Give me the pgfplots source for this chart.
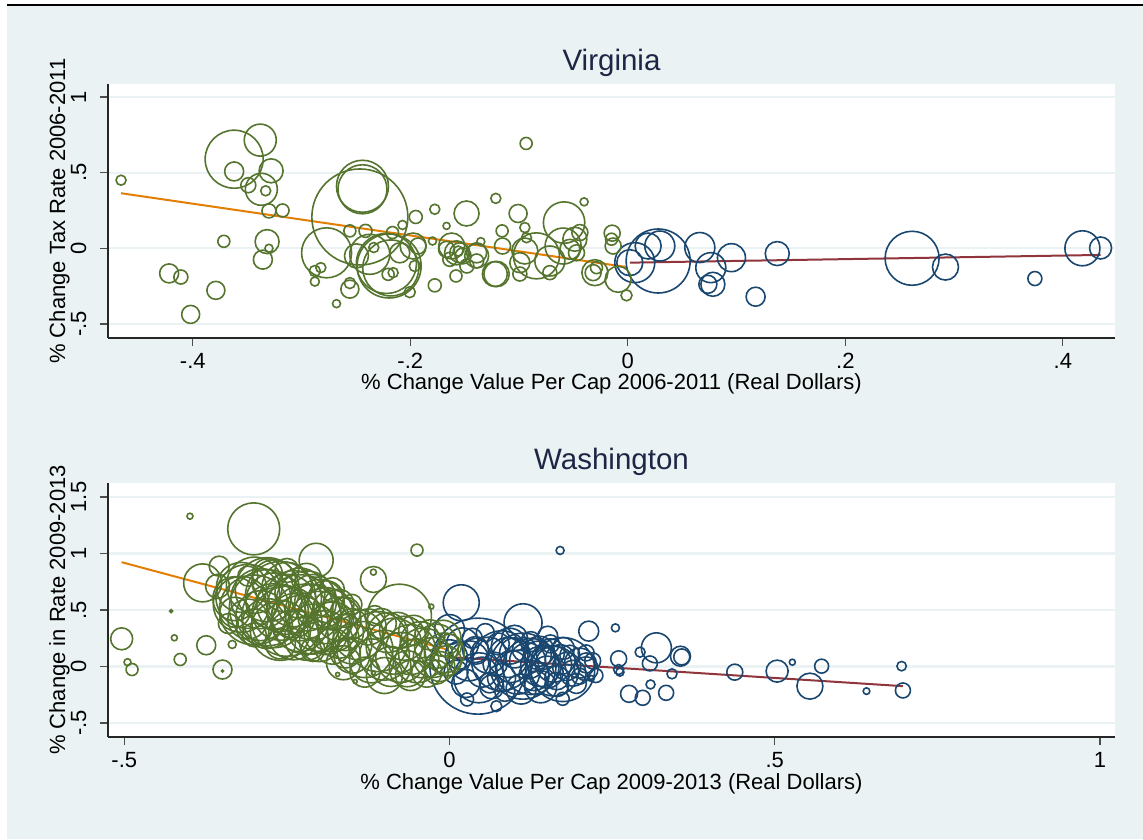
\documentclass[border=0pt]{standalone}
\usepackage{pgfplots}
\pgfplotsset{compat=1.18}
\usepackage{pgfplotstable}
\usepackage{fontspec}
\setmainfont{Liberation Sans}
\definecolor{bgc}{RGB}{234,242,243}
\definecolor{vgreen}{RGB}{85,117,47}
\definecolor{vnavy}{RGB}{26,71,111}
\definecolor{vorange}{RGB}{227,126,0}
\definecolor{vmaroon}{RGB}{144,53,59}
\definecolor{titlec}{RGB}{30,38,70}

\pgfplotstableread{
x y r
-0.466 0.45 5
-0.362 0.589 29
-0.338 0.715 16
-0.362 0.508 9.5
-0.328 0.512 12
-0.349 0.417 7.5
-0.337 0.39 16
-0.333 0.38 5
-0.330 0.247 7
-0.3175 0.25 6.5
-0.3715 0.046 6
-0.3317 0.044 12
-0.330 0.0 4
-0.3356 -0.075 9.5
-0.4218 -0.166 9.5
-0.411 -0.19 7
-0.3788 -0.278 9
-0.402 -0.437 9
-0.2464 0.207 48
-0.244 0.39 24.5
-0.244 0.41 26
-0.277 -0.03 25
-0.2195 -0.117 32
-0.222 -0.10 30
-0.218 -0.13 28
-0.2373 -0.04 20
-0.2495 -0.05 12
-0.2556 0.115 6
-0.2412 0.115 6.5
-0.2164 0.104 6
-0.2072 0.154 4.5
-0.195 0.207 6.5
-0.1775 0.258 5
-0.1483 0.23 12.5
-0.1214 0.33 5
-0.2878 -0.15 5.5
-0.2823 -0.128 5
-0.2878 -0.22 4.5
-0.2556 -0.27 9
-0.2556 -0.23 5.5
-0.2679 -0.366 4
-0.2204 -0.172 6
-0.2158 -0.161 5
-0.2005 -0.29 5.5
-0.1959 -0.117 5.5
-0.1974 0.015 13
-0.193 0.015 8
-0.2097 -0.03 10
-0.2336 0.005 5
-0.1796 0.048 4
-0.1775 -0.245 6.5
-0.1667 0.148 3.5
-0.162 0.015 13
-0.1575 -0.03 12
-0.1667 -0.007 8
-0.156 -0.018 5
-0.1515 -0.05 8
-0.1637 -0.073 7
-0.148 -0.117 7
-0.158 -0.183 6
-0.139 -0.05 12
-0.1223 -0.17 12.5
-0.139 -0.084 7
-0.0935 0.693 6
-0.1009 0.23 9
-0.0947 0.137 5
-0.1156 0.115 6
-0.0586 0.17 20.7
-0.0402 0.307 4
-0.0144 0.1 8
-0.1152 0.015 8
-0.1352 0.044 4
-0.0932 0.07 5
-0.084 -0.05 23
-0.1207 -0.17 12.7
-0.0993 -0.095 10
-0.0993 -0.17 7
-0.0717 -0.084 15
-0.0595 0.015 18
-0.0487 0.06 12
-0.0441 0.104 8
-0.0717 -0.161 7
-0.0533 -0.007 10
-0.0472 -0.03 8
-0.0303 -0.161 13
-0.0319 -0.161 8
-0.0288 -0.128 6
-0.0135 0.015 8
-0.015 0.06 6
-0.0089 -0.205 13
-0.0012 -0.311 5.5
-0.1545 -0.03 10
-0.139 -0.03 10
-0.0947 -0.018 13
}\vagreen

\pgfplotstableread{
x y r
0.0279 -0.084 32
0.0064 -0.095 20
0.0018 -0.095 13
0.0187 0.015 13
0.0294 0.015 15
0.0662 0.005 15
0.0763 -0.128 15
0.0953 -0.062 14
0.0782 -0.238 12
0.0736 -0.238 9
0.1374 -0.035 12
0.1175 -0.32 9.5
0.2614 -0.066 27
0.2921 -0.124 13
0.3743 -0.2 7
0.418 0.0 17.5
0.4347 0.002 11
}\vablue

\pgfplotstableread{
x y r
-0.399 1.33 3
-0.301 1.218 26
-0.205 0.94 17
-0.050 1.03 6
-0.504 0.245 11
-0.495 0.038 3.5
-0.488 -0.027 6
-0.428 0.49 1.5
-0.423 0.254 3
-0.414 0.062 6
-0.374 0.188 9.5
-0.349 -0.027 9.5
-0.349 -0.04 1
-0.334 0.195 4
-0.3795 0.74 19
-0.354 0.888 10
-0.3565 0.71 12
-0.117 0.77 13
-0.117 0.835 3
-0.172 -0.07 2
-0.145 -0.133 2
-0.117 -0.056 2
-0.163 0.033 17
-0.077 0.445 32
-0.028 0.53 2.5
-0.33 0.60 22
-0.33 0.48 15
-0.32 0.70 25
-0.32 0.55 28
-0.31 0.62 32
-0.31 0.42 20
-0.30 0.50 35
-0.30 0.72 28
-0.30 0.35 18
-0.29 0.60 30
-0.29 0.45 25
-0.28 0.68 32
-0.28 0.52 38
-0.28 0.38 25
-0.27 0.58 28
-0.27 0.45 32
-0.27 0.75 22
-0.26 0.62 35
-0.26 0.48 28
-0.26 0.32 30
-0.25 0.55 30
-0.25 0.70 25
-0.25 0.40 35
-0.24 0.60 28
-0.24 0.45 22
-0.24 0.28 25
-0.23 0.52 33
-0.23 0.65 25
-0.23 0.38 28
-0.22 0.58 30
-0.22 0.42 35
-0.22 0.25 22
-0.21 0.48 28
-0.21 0.62 22
-0.21 0.33 25
-0.20 0.55 25
-0.20 0.40 30
-0.20 0.22 20
-0.19 0.45 28
-0.19 0.60 18
-0.19 0.30 22
-0.18 0.50 20
-0.18 0.35 25
-0.18 0.18 18
-0.17 0.42 22
-0.17 0.25 20
-0.17 0.55 15
-0.16 0.30 18
-0.16 0.48 15
-0.16 0.12 15
-0.15 0.38 15
-0.15 0.20 20
-0.34 0.38 10
-0.30 0.28 12
-0.28 0.82 15
-0.25 0.85 12
-0.22 0.78 15
-0.18 0.68 12
-0.15 0.55 10
-0.26 0.20 15
-0.21 0.15 12
-0.31 0.80 10
-0.14 0.28 25
-0.13 0.15 28
-0.125 0.35 18
-0.12 0.05 22
-0.11 0.22 30
-0.105 0.38 15
-0.10 0.10 25
-0.095 0.30 20
-0.09 0.0 20
-0.085 0.18 28
-0.08 0.32 18
-0.075 0.08 25
-0.07 0.25 22
-0.065 -0.02 18
-0.06 0.15 25
-0.055 0.32 15
-0.05 0.05 22
-0.045 0.22 20
-0.04 0.12 25
-0.035 -0.05 15
-0.03 0.28 15
-0.025 0.08 20
-0.02 0.18 22
-0.015 0.0 15
-0.01 0.25 18
-0.008 0.12 20
-0.005 0.05 15
0.0 0.18 12
-0.13 -0.05 15
-0.10 -0.08 18
-0.06 -0.08 15
-0.02 -0.05 12
-0.15 0.10 18
-0.115 0.45 10
}\wagreen

\pgfplotstableread{
x y r
0.170 1.027 4
0.018 0.564 18
0.113 0.387 19
0.214 0.313 10
0.255 0.342 4
0.318 0.165 15
0.355 0.091 10
0.357 0.085 8
0.293 0.127 5
0.260 0.068 8
0.260 -0.027 5
0.262 -0.05 4
0.308 0.027 7.5
0.342 -0.065 5
0.276 -0.242 8.5
0.297 -0.277 7.5
0.309 -0.159 4.5
0.333 -0.233 7.5
0.4385 -0.05 8
0.5036 -0.041 11
0.527 0.038 3
0.572 0.003 7
0.554 -0.174 13
0.641 -0.218 3.3
0.695 0.003 4.7
0.697 -0.212 7.5
0.0436 0.003 48
0.113 0.003 33
0.174 -0.027 32
0.0 0.077 18
0.092 0.18 18
0.138 0.135 15
0.0405 0.135 13
0.0 0.327 15
0.151 0.268 10
0.0615 -0.145 10
0.133 -0.145 12
0.2 -0.086 8
0.2103 0.032 10
0.2179 -0.106 3
0.027 -0.292 6.5
0.072 -0.351 5.5
0.174 -0.286 6.5
0.015 0.10 14
0.03 0.05 20
0.04 0.15 13
0.05 -0.05 15
0.06 0.10 18
0.07 0.02 12
0.08 -0.10 14
0.09 0.08 20
0.095 0.0 16
0.10 0.12 15
0.105 -0.05 22
0.115 0.15 12
0.12 0.05 18
0.13 -0.08 15
0.135 0.10 14
0.14 0.0 20
0.145 0.08 12
0.15 -0.05 16
0.155 0.12 14
0.16 0.02 18
0.165 -0.10 12
0.17 0.06 15
0.18 0.0 14
0.185 0.10 10
0.19 -0.06 13
0.20 0.03 15
0.21 -0.02 12
0.22 0.05 8
0.225 -0.08 7
0.01 -0.05 12
0.02 0.20 16
0.025 -0.15 14
0.035 0.25 10
0.055 0.30 9
0.065 -0.18 12
0.075 0.20 11
0.085 -0.22 10
0.10 0.25 13
0.11 -0.20 15
0.125 0.22 10
0.14 -0.18 16
0.155 0.20 9
0.165 -0.16 12
0.175 0.16 11
0.195 -0.15 10
0.21 0.12 8
0.045 -0.10 25
0.125 0.0 28
0.08 0.05 30
0.16 -0.04 25
}\wablue

\pgfplotsset{
  stata/.style={
    scale only axis, width=1007pt, height=254pt,
    axis x line=bottom, axis y line=left,
    axis line style={-, draw=black!85, line width=1.3pt},
    every outer x axis line/.append style={-},
    every outer y axis line/.append style={-},
    tick style={draw=black!70, line width=1.3pt},
    major tick length=8pt, tick align=outside,
    axis background/.style={fill=white},
    ymajorgrids, xmajorgrids=false,
    grid style={draw=bgc, line width=2.2pt},
    /pgf/number format/assume math mode=true,
    tick label style={font=\fontsize{22}{24}\selectfont, text=black},
    xticklabel style={anchor=base, yshift=-22pt},
    yticklabel style={xshift=-14pt, rotate=90, anchor=base},
    title style={at={(axis description cs:0.5,1)}, anchor=base, yshift=7pt,
      font=\fontsize{29.5}{34}\selectfont, text=titlec},
    xlabel style={at={(axis description cs:0.5,0)}, anchor=base, yshift=-52pt,
      font=\fontsize{22}{25}\selectfont, text=black},
    ylabel style={at={(axis description cs:-0.0427,0.5)}, anchor=base,
      font=\fontsize{22}{25}\selectfont, text=black},
  },
  bubble/.style={scatter, only marks, mark=o, line width=1.6pt, point meta=y,
    scatter/use mapped color={draw=#1},
    visualization depends on={\thisrow{r} \as \rr},
    scatter/@pre marker code/.append style={/tikz/mark size=\rr}},
}

\begin{document}
\begin{tikzpicture}[x=1pt,y=1pt]
\path[use as bounding box] (0,0) rectangle (1143,839);
\fill[white] (0,0) rectangle (1143,839);
\fill[bgc] (7,0) rectangle (1143,833);
\draw[black, line width=2pt] (7,834) -- (1143,834);

\begin{axis}[stata, at={(108pt,501pt)}, anchor=south west,
  xmin=-0.478, xmax=0.448, ymin=-0.593, ymax=1.086,
  xtick={-0.4,-0.2,0,0.2,0.4}, xticklabels={-.4,-.2,0,.2,.4},
  ytick={-0.5,0,0.5,1}, yticklabels={-.5,0,.5,1},
  title={Virginia},
  xlabel={\% Change Value Per Cap 2006-2011 (Real Dollars)},
  ylabel={\% Change Tax Rate 2006-2011}]
\addplot[bubble=vnavy] table[x=x,y=y] {\vablue};
\addplot[bubble=vgreen] table[x=x,y=y] {\vagreen};
\addplot[vorange, line width=2pt] coordinates {(-0.466,0.364) (-0.001,-0.124)};
\addplot[vmaroon, line width=2pt] coordinates {(0.0018,-0.095) (0.4347,-0.044)};
\end{axis}

\begin{axis}[stata, at={(108pt,102pt)}, anchor=south west,
  xmin=-0.525, xmax=1.023, ymin=-0.624, ymax=1.624,
  xtick={-0.5,0,0.5,1}, xticklabels={-.5,0,.5,1},
  ytick={-0.5,0,0.5,1,1.5}, yticklabels={-.5,0,.5,1,1.5},
  title={Washington},
  xlabel={\% Change Value Per Cap 2009-2013 (Real Dollars)},
  ylabel={\% Change in Rate 2009-2013}]
\addplot[bubble=vnavy] table[x=x,y=y] {\wablue};
\addplot[bubble=vgreen] table[x=x,y=y] {\wagreen};
\addplot[vorange, line width=2pt] coordinates {(-0.504,0.923) (-0.003,0.15)};
\addplot[vmaroon, line width=2pt] coordinates {(0.0,0.083) (0.697,-0.174)};
\end{axis}
\end{tikzpicture}
\end{document}
